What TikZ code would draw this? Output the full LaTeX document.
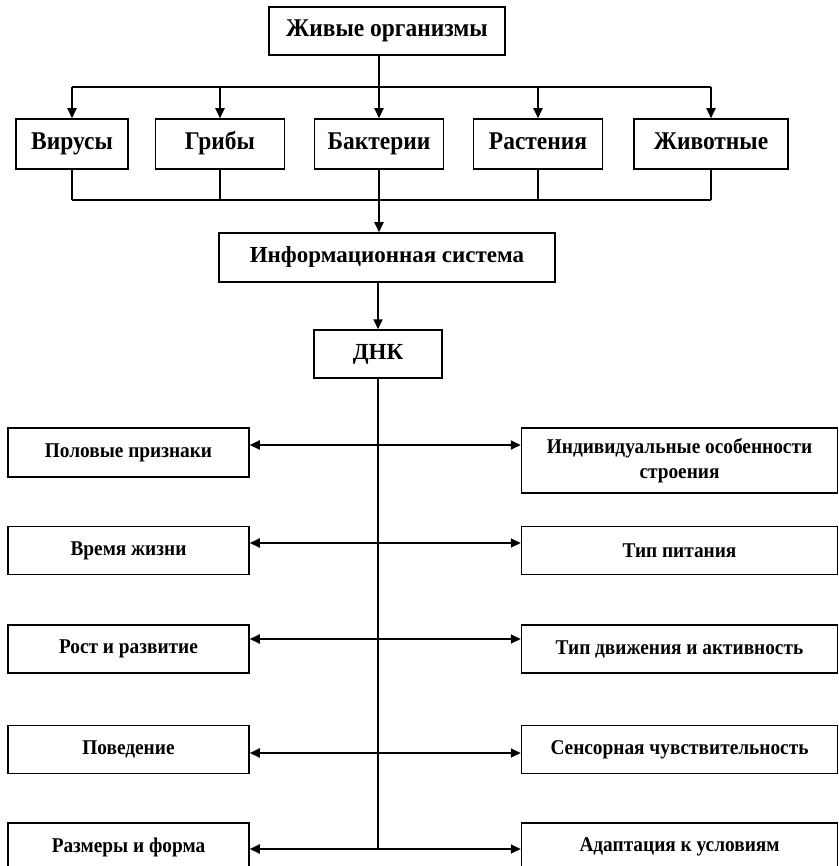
\documentclass[tikz,border=0pt]{standalone}
\usepackage{fontspec}
\setmainfont{Liberation Serif}
\newfontfamily\condfont[FakeStretch=0.92]{Liberation Serif}
\usepackage{tikz}
\usetikzlibrary{shapes,arrows,arrows.meta,positioning,calc}

\begin{document}
\begin{tikzpicture}[
  x=1pt, y=1pt,
  box/.style={rectangle, draw=black, line width=1.5pt, inner sep=0pt, align=center},
  topbox/.style={box, minimum height=50pt, text height=17pt, text depth=5pt, font=\condfont\fontsize{25.5}{27}\selectfont\bfseries},
  midbox/.style={box, minimum height=49pt, text height=16pt, text depth=5pt, font=\fontsize{23}{25}\selectfont\bfseries},
  lbox/.style={box, minimum width=241pt, minimum height=48pt, font=\condfont\fontsize{21}{25}\selectfont\bfseries},
  rbox/.style={box, minimum width=316pt, minimum height=48pt, font=\condfont\fontsize{21}{25}\selectfont\bfseries},
  line/.style={line width=1.6pt},
  arrow/.style={line width=1.8pt, -{Triangle[length=10pt,width=9pt]}},
  dbl/.style={line width=1.8pt, {Triangle[length=10pt,width=9pt]}-{Triangle[length=10pt,width=9pt]}}
]
  \useasboundingbox (0,0) rectangle (838,-866);

  % top part
  \node[topbox, minimum width=236pt, minimum height=48pt] (live) at (387,-31) {Живые организмы};
  \node[topbox, minimum width=112pt] (vir)  at (72,-144)  {Вирусы};
  \node[topbox, minimum width=129pt] (grib) at (220,-144) {Грибы};
  \node[topbox, minimum width=129pt] (bakt) at (379,-144) {Бактерии};
  \node[topbox, minimum width=129pt] (rast) at (538,-144) {Растения};
  \node[topbox, minimum width=154pt] (zhiv) at (711,-144) {Животные};
  \node[midbox, minimum width=336pt] (info) at (387,-257.5) {Информационная система};
  \node[midbox, minimum width=128pt, minimum height=48pt] (dnk) at (378,-354) {ДНК};

  \coordinate (j1) at (379,-87);
  \coordinate (j2) at (379,-200);
  \draw[line] (live.south -| j1) -- (j1);
  \draw[line] (j1 -| vir) -- (j1 -| zhiv);
  \draw[line] (j2 -| vir) -- (j2 -| zhiv);
  \foreach \n in {vir,grib,bakt,rast,zhiv} {
    \draw[arrow] (j1 -| \n) -- (\n.north);
    \draw[line] (\n.south) -- (j2 -| \n);
  }
  \draw[arrow] (j2) -- (info.north -| j2);
  \draw[arrow] (info.south -| dnk) -- (dnk.north);

  % features
  \node[lbox, minimum height=49pt] (pol) at (128.5,-452.5) {Половые признаки};
  \node[lbox, below=48pt of pol] (vre) {Время жизни};
  \node[lbox, below=49pt of vre] (rost) {Рост и развитие};
  \node[lbox, below=51pt of rost] (pov) {Поведение};
  \node[lbox, below=48pt of pov] (raz) {Размеры и форма};

  \node[rbox, minimum height=65pt, anchor=north west] (ind) at ([xshift=271pt]pol.north east) {Индивидуальные особенности\\строения};
  \node[rbox, anchor=north west] (pit) at ([xshift=271pt]vre.north east) {Тип питания};
  \node[rbox, anchor=north west] (dvi) at ([xshift=271pt]rost.north east) {Тип движения и активность};
  \node[rbox, anchor=north west] (sen) at ([xshift=271pt]pov.north east) {Сенсорная чувствительность};
  \node[rbox, anchor=north west] (ada) at ([xshift=271pt]raz.north east) {Адаптация к условиям};

  \draw[line width=1.2pt] (dnk.south) -- (dnk.south |- 0,-849);
  \foreach \l/\r/\y in {pol/ind/445, vre/pit/543, rost/dvi/639, pov/sen/753, raz/ada/849}
    \draw[dbl] (\l.east |- 0,-\y) -- (\r.west |- 0,-\y);
\end{tikzpicture}
\end{document}
